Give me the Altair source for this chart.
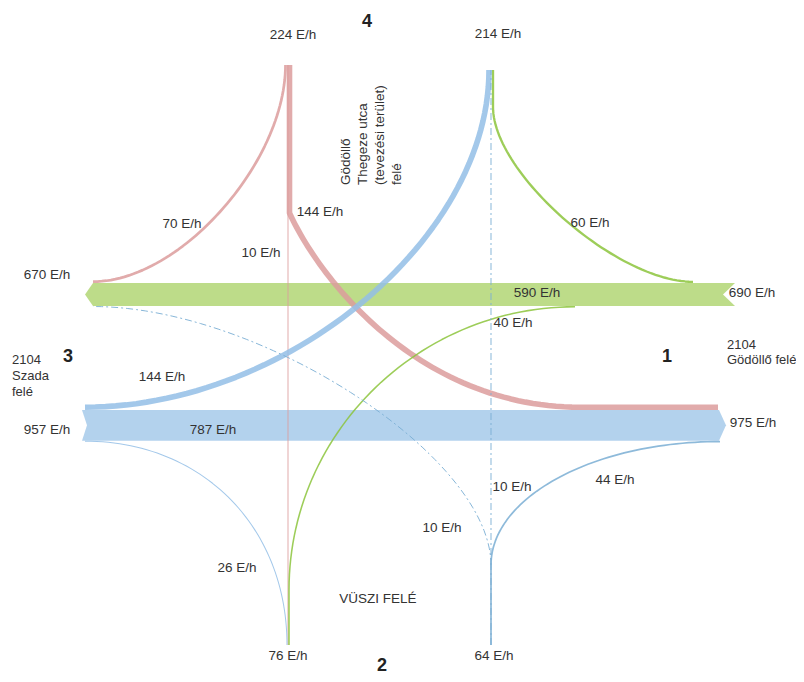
import altair as alt
import numpy as np
import pandas as pd

# ---------------- data: turning volumes at the junction (E/h) ----------------
movements = ["N-W", "N-S", "N-E", "E-N", "E-W", "E-S", "W-N", "W-E", "W-S", "S-E", "S-W", "S-N"]
volumes   = [70, 10, 144, 60, 590, 40, 144, 787, 26, 44, 10, 10]
origins   = ["N", "N", "N", "E", "E", "E", "W", "W", "W", "S", "S", "S"]

# arm totals (in / out)
arm_totals = ["224 E/h", "214 E/h", "670 E/h", "690 E/h", "957 E/h", "975 E/h", "76 E/h", "64 E/h"]
# movement labels
move_labels = ["70 E/h", "10 E/h", "144 E/h", "60 E/h", "590 E/h", "40 E/h",
               "144 E/h", "787 E/h", "26 E/h", "44 E/h", "10 E/h", "10 E/h"]
arm_numbers = ["1", "2", "3", "4"]
place_left = ["2104", "Gödöllő felé", "2104", "Szada", "felé"]
place_north = ["Gödöllő", "Thegeze utca", "(tevezési terület)", "felé"]
place_south = ["VÜSZI FELÉ"]

# ---------------- layout (pixel geometry) ----------------
W, H = 788, 666
S = 0.039                      # px of width per E/h
vol = dict(zip(movements, volumes))
org = dict(zip(movements, origins))
def wid(v):
    return max(1.0, v * S)

XL, XR = 288, 491              # the two vertical approaches
YT, YB = 65, 645
G_TOP, G_X0, G_X1 = 283, 85, 735
B_TOP, B_X0, B_X1 = 410, 82, 726
gh = vol["E-W"] * S
bh = vol["W-E"] * S

line_col = {"N": "#dc9c9c", "E": "#8cc43c", "W": "#93bee6", "S": "#7aaed4"}
band_col = {"E": "#b6d87c", "W": "#abcdeb"}

def bez(p0, p1, p2, p3, n=60):
    t = np.linspace(0, 1, n)[:, None]
    p0, p1, p2, p3 = map(np.array, (p0, p1, p2, p3))
    return (1 - t) ** 3 * p0 + 3 * (1 - t) ** 2 * t * p1 + 3 * (1 - t) * t ** 2 * p2 + t ** 3 * p3

def turn(A, C, B, k):
    A, C, B = map(np.array, (A, C, B))
    return bez(A, A + k * (C - A), B + k * (C - B), B)

def seg(A, B):
    return np.array([A, B], dtype=float)

paths = {}
w = wid(vol["N-W"]); yy = G_TOP - w / 2
paths["N-W"] = turn((XL - 2.5, YT), (XL - 2.5, yy), (G_X0 + 8, yy), 0.45)
paths["N-S"] = seg((XL, YT), (XL, YB))
w = wid(vol["N-E"]); yy = B_TOP - w / 2
paths["N-E"] = np.vstack([seg((XL + 1.5, YT), (XL + 1.5, 213)),
                          bez((XL + 1.5, 213), (320, 280), (420, yy), (580, yy)),
                          seg((580, yy), (B_X1 - 8, yy))])
w = wid(vol["E-N"]); yy = G_TOP - w / 2
paths["E-N"] = np.vstack([turn((G_X1 - 42, yy), (XR + 2, yy), (XR + 2, 107), 0.38),
                          seg((XR + 2, 107), (XR + 2, 70))])
w = wid(vol["E-S"]); yy = G_TOP + gh + w / 2
paths["E-S"] = np.vstack([turn((575, yy), (XL + 1, yy), (XL + 1, 590), 0.55),
                          seg((XL + 1, 590), (XL + 1, YB))])
w = wid(vol["W-N"]); yy = B_TOP - w / 2
paths["W-N"] = turn((B_X0 + 3, yy), (XR - 2, yy), (XR - 2, 70), 0.5)
w = wid(vol["W-S"]); yy = B_TOP + bh + w / 2
paths["W-S"] = turn((B_X0 + 3, yy), (XL - 1, yy), (XL - 1, YB), 0.58)
w = wid(vol["S-E"]); yy = B_TOP + bh + w / 2
paths["S-E"] = np.vstack([seg((XR, YB), (XR, 565)),
                          turn((XR, 565), (XR, yy), (720, yy), 0.55)])
yy = G_TOP + gh + 0.5
paths["S-W"] = turn((XR, 565), (XR, yy), (G_X0 + 8, yy), 0.42)
paths["S-N"] = seg((XR, YB), (XR, 70))

dashed = {"S-W", "S-N"}
rows_solid, rows_dash = [], []
for m in movements:
    if m not in paths:
        continue
    target = rows_dash if m in dashed else rows_solid
    for i, (px, py) in enumerate(paths[m]):
        target.append({"id": m, "i": i, "x": px, "y": py,
                       "w": wid(vol[m]), "c": line_col[org[m]]})
df_solid = pd.DataFrame(rows_solid)
df_dash = pd.DataFrame(rows_dash)

# bands as area pieces (body + arrow head / tail)
band_rows = []
def piece(name, col, xs, ys, y2s):
    for px, a, b in zip(xs, ys, y2s):
        band_rows.append({"id": name, "x": px, "y": a, "y2": b, "c": col})
gc, bc = band_col["E"], band_col["W"]
gm = G_TOP + gh / 2
piece("g_body", gc, [G_X0, G_X0 + 8, G_X1 - 12], [gm, G_TOP, G_TOP], [gm, G_TOP + gh, G_TOP + gh])
piece("g_t1", gc, [G_X1 - 12, G_X1], [G_TOP, G_TOP], [gm, G_TOP])
piece("g_t2", gc, [G_X1 - 12, G_X1], [gm, G_TOP + gh], [G_TOP + gh, G_TOP + gh])
bm = B_TOP + bh / 2
piece("b_t1", bc, [B_X0, B_X0 + 5], [B_TOP, B_TOP], [B_TOP, bm])
piece("b_t2", bc, [B_X0, B_X0 + 5], [B_TOP + bh, bm], [B_TOP + bh, B_TOP + bh])
piece("b_body", bc, [B_X0 + 5, B_X1 - 7, B_X1], [B_TOP, B_TOP, bm], [B_TOP + bh, B_TOP + bh, bm])
df_band = pd.DataFrame(band_rows)

# label placement
tot_pos = [(293, 35), (498, 34), (47, 275), (752, 293), (47, 430), (753, 423), (288, 656), (494, 656)]
mov_pos = [(182, 224), (261, 253), (320, 212), (590, 223), (537, 293), (513, 323),
           (162, 377), (213, 430), (237, 568), (615, 480), (442, 528), (512, 487)]
num_pos = [(667, 357), (382, 666), (68, 357), (367, 22)]
left_pos = [(727, 345), (727, 360), (12, 360), (12, 376), (12, 392)]
north_pos = [(346, 185), (363, 185), (380, 185), (397, 185)]
south_pos = [(378, 599)]

def tdf(texts, pos):
    return pd.DataFrame({"t": texts, "x": [p[0] for p in pos], "y": [p[1] for p in pos]})

df_center = pd.concat([tdf(arm_totals, tot_pos), tdf(move_labels, mov_pos), tdf(place_south, south_pos)])
df_num = tdf(arm_numbers, num_pos)
df_left = tdf(place_left, left_pos)
df_north = tdf(place_north, north_pos)

FONT = "Liberation Sans"
TXT = "#333333"
X = alt.X("x:Q", scale=alt.Scale(domain=[8, 8 + W], nice=False, zero=False), axis=None)
Y = alt.Y("y:Q", scale=alt.Scale(domain=[8, 8 + H], nice=False, zero=False, reverse=True), axis=None)

bands = alt.Chart(df_band).mark_area(orient="vertical", opacity=0.9).encode(
    x=X, y=Y, y2="y2:Q", detail="id:N", color=alt.Color("c:N", scale=None))

solid = alt.Chart(df_solid).mark_line(strokeCap="butt", strokeJoin="round", opacity=0.85).encode(
    x=X, y=Y, detail="id:N", order="i:Q",
    strokeWidth=alt.StrokeWidth("w:Q", scale=None), color=alt.Color("c:N", scale=None))

dash = alt.Chart(df_dash).mark_line(strokeCap="butt", strokeDash=[7, 3, 2, 3], opacity=0.9).encode(
    x=X, y=Y, detail="id:N", order="i:Q",
    strokeWidth=alt.StrokeWidth("w:Q", scale=None), color=alt.Color("c:N", scale=None))

t_center = alt.Chart(df_center).mark_text(font=FONT, fontSize=13.5, align="center", baseline="middle", color=TXT).encode(
    x=X, y=Y, text="t:N")
t_left = alt.Chart(df_left).mark_text(font=FONT, fontSize=13, align="left", baseline="middle", color=TXT).encode(
    x=X, y=Y, text="t:N")
t_north = alt.Chart(df_north).mark_text(font=FONT, fontSize=13.5, align="left", baseline="middle", angle=270, color=TXT).encode(
    x=X, y=Y, text="t:N")
t_num = alt.Chart(df_num).mark_text(font=FONT, fontSize=18, fontWeight="bold", align="center", baseline="middle", color="#222222").encode(
    x=X, y=Y, text="t:N")

chart = alt.layer(bands, solid, dash, t_center, t_left, t_north, t_num).properties(
    width=W, height=H, padding=0, autosize=alt.AutoSizeParams(type="none"),
    background="white").configure_view(stroke=None)

chart.save("out.html", embed_options={"renderer": "svg", "actions": False})
